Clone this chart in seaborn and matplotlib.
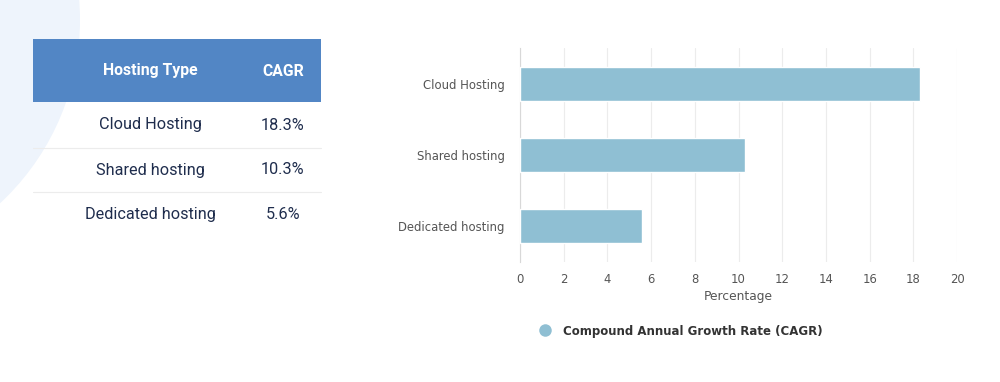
import numpy as np
import pandas as pd
import matplotlib.pyplot as plt
import seaborn as sns
from matplotlib.patches import Rectangle, Ellipse
from matplotlib.lines import Line2D

# data
hosting_types = ['Cloud Hosting', 'Shared hosting', 'Dedicated hosting']
cagr = [18.3, 10.3, 5.6]
cagr_labels = ['18.3%', '10.3%', '5.6%']
x_ticks = [0, 2, 4, 6, 8, 10, 12, 14, 16, 18, 20]

df = pd.DataFrame({'Hosting Type': hosting_types, 'CAGR': cagr})

sns.set_style('white')
plt.rcParams['font.family'] = ['DejaVu Sans']

fig = plt.figure(figsize=(10, 3.82), dpi=100)
W, H = 1000, 382

def fx(px):
    return px / W

def fy(py):
    return 1 - py / H

# light background blob on the left
blob = Ellipse((fx(-170), fy(20)), 500 / W, 500 / H, transform=fig.transFigure,
               facecolor='#eef4fc', edgecolor='none', zorder=0)
fig.patches.append(blob)

# table on the left
fig.patches.append(Rectangle((fx(33), fy(102)), fx(321) - fx(33), (102 - 39) / H,
                             transform=fig.transFigure, facecolor='#5286c5',
                             edgecolor='none', zorder=1))
fig.text(fx(150), fy(71), 'Hosting Type', color='white', fontsize=11.3,
         fontweight='bold', family='Roboto', ha='center', va='center', zorder=3)
fig.text(fx(283), fy(71), 'CAGR', color='white', fontsize=11.3,
         fontweight='bold', family='Roboto', ha='center', va='center', zorder=3)
row_y = [125, 170, 215]
for name, lab, ry in zip(hosting_types, cagr_labels, row_y):
    fig.text(fx(150), fy(ry), name, color='#1f2d4d', fontsize=11.7,
             family='Roboto', ha='center', va='center', zorder=3)
    fig.text(fx(283), fy(ry), lab, color='#1f2d4d', fontsize=11.7,
             family='Roboto', ha='center', va='center', zorder=3)
for ly in [148, 192]:
    fig.add_artist(Line2D([fx(33), fx(321)], [fy(ly), fy(ly)], color='#ececec',
                          lw=0.8, transform=fig.transFigure, zorder=2))

# bar chart
ax = fig.add_axes([fx(520), fy(262), (957 - 520) / W, (262 - 48) / H])
ax.set_facecolor('none')
sns.barplot(data=df, x='CAGR', y='Hosting Type', orient='h', color='#8fbfd3',
            saturation=1, width=0.48, ax=ax, zorder=3)
ax.set_xlim(0, 20)
ax.set_ylim(2.5, -0.5)
ax.set_xticks(x_ticks)
ax.grid(axis='x', color='#ececec', lw=0.8, zorder=0)
ax.set_axisbelow(True)
for s in ['top', 'right', 'bottom']:
    ax.spines[s].set_visible(False)
ax.spines['left'].set_color('#d8d8d8')
ax.spines['left'].set_linewidth(0.8)
ax.tick_params(axis='both', length=0, labelsize=8.4, labelcolor='#555555')
ax.tick_params(axis='y', pad=11)
ax.tick_params(axis='x', pad=8)
ax.set_ylabel('')
ax.set_xlabel('Percentage', fontsize=8.8, color='#555555', labelpad=3)

# legend
handle = Line2D([], [], marker='o', linestyle='none', markersize=9,
                markerfacecolor='#8fbfd3', markeredgecolor='none')
fig.legend([handle], ['Compound Annual Growth Rate (CAGR)'], loc='center',
           bbox_to_anchor=(fx(678), fy(331)), frameon=False, handletextpad=0.5,
           prop={'weight': 'bold', 'size': 8.5})
for t in fig.legends[0].get_texts():
    t.set_color('#333333')

fig.savefig('out.png', dpi=100, facecolor='white')
